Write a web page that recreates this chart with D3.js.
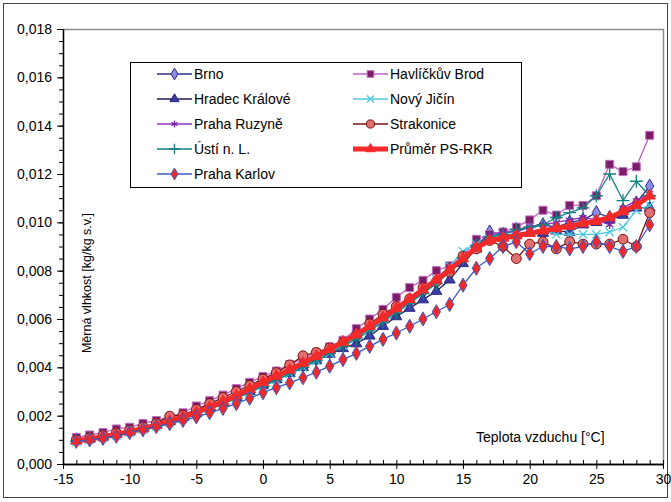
<!DOCTYPE html>
<html>
<head>
<meta charset="utf-8">
<title>Měrná vlhkost</title>
<script src="https://cdn.jsdelivr.net/npm/d3@7"></script>
<style>
body { margin: 0; background: #ffffff; }
text { font-family: "Liberation Sans", Arial, sans-serif; fill: #000; }
</style>
</head>
<body>
<div id="chart"></div>
<script>
// teplota vzduchu [°C]
var teploty = [-14,-13,-12,-11,-10,-9,-8,-7,-6,-5,-4,-3,-2,-1,0,1,2,3,4,5,6,7,8,9,10,11,12,13,14,15,16,17,18,19,20,21,22,23,24,25,26,27,28,29];

// merna vlhkost [kg/kg s.v.]
var brno = [0.00100,0.00106,0.00114,0.00124,0.00136,0.00148,0.00162,0.00178,0.00194,0.00212,0.00232,0.00254,0.00278,0.00304,0.00330,0.00356,0.00382,0.00408,0.00436,0.00465,0.00495,0.00525,0.00558,0.00595,0.00632,0.00672,0.00712,0.00752,0.00795,0.00845,0.00900,0.00960,0.00950,0.00970,0.00980,0.00990,0.00980,0.01000,0.01010,0.01040,0.01020,0.01050,0.01080,0.01150];
var havlBrod = [0.00110,0.00120,0.00130,0.00145,0.00152,0.00168,0.00180,0.00195,0.00212,0.00240,0.00262,0.00285,0.00312,0.00338,0.00362,0.00385,0.00412,0.00435,0.00460,0.00485,0.00512,0.00560,0.00600,0.00640,0.00690,0.00730,0.00760,0.00800,0.00820,0.00860,0.00930,0.00950,0.00960,0.00980,0.01010,0.01050,0.01030,0.01070,0.01070,0.01110,0.01240,0.01210,0.01230,0.01360];
var hradec = [0.00098,0.00104,0.00112,0.00122,0.00134,0.00146,0.00160,0.00175,0.00192,0.00210,0.00230,0.00252,0.00276,0.00300,0.00326,0.00350,0.00375,0.00400,0.00428,0.00455,0.00478,0.00498,0.00530,0.00570,0.00610,0.00645,0.00680,0.00715,0.00762,0.00830,0.00890,0.00930,0.00940,0.00950,0.00960,0.00955,0.00965,0.00960,0.00990,0.01000,0.01010,0.01030,0.01060,0.01060];
var novyJicin = [0.00092,0.00100,0.00108,0.00118,0.00130,0.00142,0.00155,0.00170,0.00187,0.00206,0.00227,0.00249,0.00272,0.00297,0.00322,0.00348,0.00374,0.00400,0.00428,0.00458,0.00490,0.00525,0.00560,0.00598,0.00638,0.00678,0.00720,0.00765,0.00820,0.00880,0.00910,0.00930,0.00945,0.00955,0.00960,0.00970,0.00950,0.00950,0.00950,0.00950,0.00960,0.00980,0.01050,0.01070];
var ruzyne = [0.00100,0.00108,0.00116,0.00126,0.00138,0.00150,0.00164,0.00180,0.00197,0.00216,0.00237,0.00260,0.00285,0.00311,0.00338,0.00364,0.00390,0.00416,0.00444,0.00473,0.00503,0.00535,0.00568,0.00605,0.00643,0.00682,0.00724,0.00765,0.00808,0.00852,0.00900,0.00945,0.00960,0.00960,0.00980,0.00990,0.01000,0.01010,0.01020,0.01010,0.00990,0.01060,0.01090,0.01120];
var strakonice = [0.00100,0.00108,0.00118,0.00128,0.00140,0.00153,0.00168,0.00198,0.00202,0.00226,0.00250,0.00275,0.00300,0.00325,0.00352,0.00378,0.00410,0.00448,0.00462,0.00480,0.00502,0.00532,0.00580,0.00620,0.00652,0.00684,0.00730,0.00754,0.00794,0.00860,0.00890,0.00925,0.00900,0.00850,0.00910,0.00920,0.00890,0.00920,0.00910,0.00910,0.00910,0.00930,0.00900,0.01040];
var usti = [0.00094,0.00100,0.00108,0.00118,0.00128,0.00140,0.00154,0.00169,0.00186,0.00205,0.00226,0.00248,0.00271,0.00296,0.00321,0.00347,0.00373,0.00400,0.00428,0.00457,0.00487,0.00518,0.00550,0.00587,0.00625,0.00665,0.00705,0.00747,0.00793,0.00852,0.00905,0.00940,0.00950,0.00970,0.00980,0.00990,0.01020,0.01040,0.01060,0.01110,0.01200,0.01090,0.01170,0.01110];
var prumer = [0.00096,0.00104,0.00113,0.00123,0.00134,0.00147,0.00161,0.00177,0.00195,0.00214,0.00235,0.00258,0.00283,0.00310,0.00338,0.00364,0.00390,0.00418,0.00446,0.00475,0.00505,0.00536,0.00570,0.00606,0.00644,0.00682,0.00722,0.00762,0.00803,0.00850,0.00895,0.00925,0.00935,0.00945,0.00955,0.00965,0.00975,0.00985,0.00995,0.01005,0.01020,0.01045,0.01070,0.01110];
var karlov = [0.00094,0.00100,0.00106,0.00115,0.00130,0.00142,0.00155,0.00167,0.00180,0.00195,0.00212,0.00230,0.00250,0.00272,0.00295,0.00316,0.00336,0.00357,0.00380,0.00405,0.00432,0.00458,0.00487,0.00516,0.00542,0.00570,0.00600,0.00630,0.00660,0.00740,0.00810,0.00850,0.00900,0.00920,0.00870,0.00900,0.00900,0.00890,0.00900,0.00920,0.00900,0.00880,0.00900,0.00990];

var xTicks = [-15,-10,-5,0,5,10,15,20,25,30];
var yTicks = [0,0.002,0.004,0.006,0.008,0.010,0.012,0.014,0.016,0.018];

var series = [
  {name: 'Brno', values: brno, line: '#2e2e8a', lw: 1.3, sym: d3.symbolDiamond, size: 58, fill: '#8c8ce6', stroke: '#2e2e8a'},
  {name: 'Havlíčkův Brod', values: havlBrod, line: '#c060c0', lw: 1.3, sym: d3.symbolSquare, size: 64, fill: '#7a1c68', stroke: '#c070c0'},
  {name: 'Hradec Králové', values: hradec, line: '#1c1c50', lw: 1.3, sym: d3.symbolTriangle, size: 52, fill: '#3a3aa0', stroke: '#2a2a80'},
  {name: 'Nový Jičín', values: novyJicin, line: '#4cc8e0', lw: 1.3, sym: d3.symbolX, size: 48, fill: 'none', stroke: '#4cc8e0'},
  {name: 'Praha Ruzyně', values: ruzyne, line: '#9030c0', lw: 1.3, sym: d3.symbolAsterisk, size: 48, fill: 'none', stroke: '#7828a8'},
  {name: 'Strakonice', values: strakonice, line: '#7a1010', lw: 1.3, sym: d3.symbolCircle, size: 76, fill: '#e07070', stroke: '#7a1010'},
  {name: 'Ústí n. L.', values: usti, line: '#128080', lw: 1.3, sym: d3.symbolPlus, size: 56, fill: 'none', stroke: '#128080'},
  {name: 'Průměr PS-RKR', values: prumer, line: '#f42a2a', lw: 5, sym: d3.symbolTriangle, size: 56, fill: '#f42a2a', stroke: '#f42a2a'},
  {name: 'Praha Karlov', values: karlov, line: '#3c58c0', lw: 1.3, sym: d3.symbolDiamond, size: 58, fill: '#f02828', stroke: '#3c58c0'}
];

var W = 671, H = 502;
var svg = d3.select('#chart').append('svg')
    .attr('width', W)
    .attr('height', H);

// ramecek kolem celeho grafu
svg.append('rect')
    .attr('x', 3.5).attr('y', 3.5)
    .attr('width', 664).attr('height', 494)
    .attr('fill', '#fff')
    .attr('stroke', '#444')
    .attr('stroke-width', 1);

var x = d3.scaleLinear().domain([-15, 30]).range([63, 663]);
var y = d3.scaleLinear().domain([0, 0.018]).range([464, 29]);

// horni a prava hrana plochy grafu
svg.append('path')
    .attr('d', 'M' + x(-15) + ',' + (y(0.018) + 0.5) + 'H' + (x(30) + 0.5) + 'V' + y(0))
    .attr('fill', 'none')
    .attr('stroke', '#8c8c8c')
    .attr('stroke-width', 1.5);

var fmtY = function(d) { return d3.format('.3f')(d).replace('.', ','); };

// vedlejsi znacky
var yMinor = d3.axisLeft(y).tickValues(d3.range(0, 0.0181, 0.0005)).tickFormat('').tickSizeInner(4).tickSizeOuter(0);
svg.append('g').attr('transform', 'translate(' + x(-15) + ',0)').call(yMinor);
var xMinor = d3.axisBottom(x).tickValues(d3.range(-15, 31, 1)).tickFormat('').tickSizeInner(-4).tickSizeOuter(0);
svg.append('g').attr('transform', 'translate(0,' + y(0) + ')').call(xMinor);

var yAxis = d3.axisLeft(y).tickValues(yTicks).tickFormat(fmtY).tickSizeInner(6).tickSizeOuter(0).tickPadding(5);
svg.append('g').attr('transform', 'translate(' + x(-15) + ',0)').call(yAxis);
var xAxis = d3.axisBottom(x).tickValues(xTicks).tickFormat(function(d) { return String(d); }).tickSizeInner(5).tickSizeOuter(0).tickPadding(5);
svg.append('g').attr('transform', 'translate(0,' + y(0) + ')').call(xAxis);

svg.selectAll('.domain').attr('stroke', '#000').attr('stroke-width', 1.3);
svg.selectAll('.tick line').attr('stroke', '#000');
svg.selectAll('.tick text').attr('font-size', 14).attr('font-family', '"Liberation Sans", Arial, sans-serif');

// popisky os
svg.append('text')
    .attr('transform', 'translate(91,283) rotate(-90)')
    .attr('text-anchor', 'middle')
    .attr('font-size', 12.5)
    .text('Měrná vlhkost [kg/kg s.v.]');

svg.append('text')
    .attr('x', 476).attr('y', 442)
    .attr('font-size', 14)
    .text('Teplota vzduchu [°C]');

// rady
var line = d3.line()
    .x(function(d, i) { return x(teploty[i]); })
    .y(function(d) { return y(d); });

series.forEach(function(s) {
  var g = svg.append('g').attr('class', 'serie');
  g.append('path')
      .datum(s.values)
      .attr('fill', 'none')
      .attr('stroke', s.line)
      .attr('stroke-width', s.lw)
      .attr('stroke-linejoin', 'round')
      .attr('d', line);
  g.selectAll('path.m')
      .data(s.values)
      .join('path')
      .attr('class', 'm')
      .attr('transform', function(d, i) { return 'translate(' + x(teploty[i]) + ',' + y(d) + ')'; })
      .attr('d', d3.symbol().type(s.sym).size(s.size))
      .attr('fill', s.fill)
      .attr('stroke', s.stroke)
      .attr('stroke-width', s.fill == 'none' ? 1.3 : 1);
});

// legenda
var leg = svg.append('g');
leg.append('rect')
    .attr('x', 130.5).attr('y', 62.5)
    .attr('width', 391).attr('height', 125)
    .attr('fill', '#fff')
    .attr('stroke', '#000')
    .attr('stroke-width', 1);

var legX = [157, 353];
var legY = [74, 99, 124, 149, 174];
var poradi = [0, 2, 4, 6, 8, 1, 3, 5, 7];

poradi.forEach(function(si, k) {
  var s = series[si];
  var col = k < 5 ? 0 : 1;
  var row = k < 5 ? k : k - 5;
  var lx = legX[col], ly = legY[row];
  leg.append('line')
      .attr('x1', lx).attr('x2', lx + 35)
      .attr('y1', ly).attr('y2', ly)
      .attr('stroke', s.line)
      .attr('stroke-width', s.lw);
  leg.append('path')
      .attr('transform', 'translate(' + (lx + 17.5) + ',' + ly + ')')
      .attr('d', d3.symbol().type(s.sym).size(s.size * 0.7))
      .attr('fill', s.fill)
      .attr('stroke', s.stroke)
      .attr('stroke-width', s.fill == 'none' ? 1.3 : 1);
  leg.append('text')
      .attr('x', lx + 37).attr('y', ly + 5)
      .attr('font-size', 14)
      .text(s.name);
});
</script>
</body>
</html>
